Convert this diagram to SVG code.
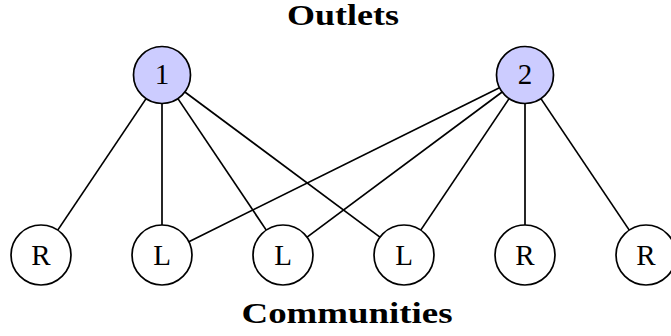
<svg xmlns="http://www.w3.org/2000/svg" width="671" height="336" viewBox="0 0 671 336">
<style>
.n{fill:#fff;stroke:#000;stroke-width:1.7}
.t{fill:#ccccff}
.lbl{font-family:"Liberation Serif","DejaVu Serif",serif;font-size:29px;text-anchor:middle;fill:#000}
.h{font-family:"Liberation Serif","DejaVu Serif",serif;font-size:29px;font-weight:bold;text-anchor:middle;fill:#000}
.e{stroke:#000;stroke-width:1.7;fill:none}
</style>
<rect width="671" height="336" fill="#fff"/>
<text class="h" x="343" y="25" textLength="112" lengthAdjust="spacingAndGlyphs">Outlets</text>
<text class="h" x="347" y="323" textLength="211" lengthAdjust="spacingAndGlyphs">Communities</text>
<g id="edges">
<line class="e" x1="146.1" y1="98.65" x2="57.74" y2="230.1"/>
<line class="e" x1="162" y1="103.5" x2="162" y2="225"/>
<line class="e" x1="177.9" y1="98.65" x2="266.26" y2="230.1"/>
<line class="e" x1="184.87" y1="92.01" x2="379.93" y2="237.1"/>
<line class="e" x1="499.47" y1="87.66" x2="188.88" y2="241.67"/>
<line class="e" x1="502.13" y1="92.01" x2="307.07" y2="237.1"/>
<line class="e" x1="509.1" y1="98.65" x2="420.74" y2="230.1"/>
<line class="e" x1="525" y1="103.5" x2="525" y2="225"/>
<line class="e" x1="540.9" y1="98.65" x2="629.26" y2="230.1"/>
</g>
<g id="o1"><circle class="n t" cx="162" cy="75" r="28.5"/><text class="lbl" x="162" y="84">1</text></g>
<g id="o2"><circle class="n t" cx="525" cy="75" r="28.5"/><text class="lbl" x="525" y="84">2</text></g>
<g id="c1"><circle class="n" cx="41" cy="255" r="30"/><text class="lbl" x="41" y="265">R</text></g>
<g id="c2"><circle class="n" cx="162" cy="255" r="30"/><text class="lbl" x="162" y="265">L</text></g>
<g id="c3"><circle class="n" cx="283" cy="255" r="30"/><text class="lbl" x="283" y="265">L</text></g>
<g id="c4"><circle class="n" cx="404" cy="255" r="30"/><text class="lbl" x="404" y="265">L</text></g>
<g id="c5"><circle class="n" cx="525" cy="255" r="30"/><text class="lbl" x="525" y="265">R</text></g>
<g id="c6"><circle class="n" cx="646" cy="255" r="30"/><text class="lbl" x="646" y="265">R</text></g>
</svg>
